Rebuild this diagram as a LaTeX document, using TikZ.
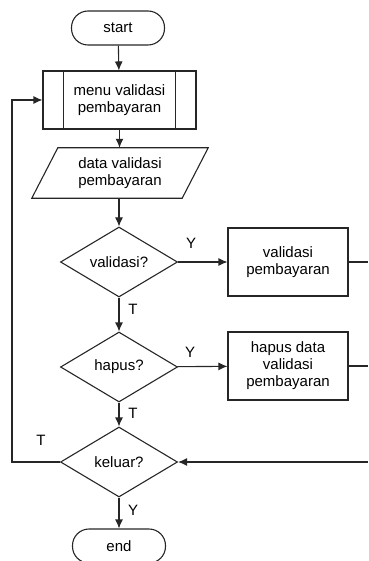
\documentclass[tikz,border=0pt]{standalone}
\usepackage{fontspec}
\setmainfont{Liberation Sans}
\usetikzlibrary{shapes.geometric,arrows.meta}

\begin{document}
\begin{tikzpicture}[x=1pt,y=-1pt,
  font=\fontsize{15}{17}\selectfont,
  line/.style={draw=black!85,line width=1.1pt},
  flow/.style={line,-{Latex[length=9pt,width=8pt]}},
  terminal/.style={line,rounded corners=16.5pt,minimum width=93pt,minimum height=34pt,inner sep=0pt},
  procbox/.style={line,rectangle,minimum width=120pt,minimum height=68pt,align=center,inner sep=0pt},
  decision/.style={line,diamond,aspect=1.67,minimum width=117pt,minimum height=70pt,inner sep=0pt},
  answer/.style={inner sep=0pt}]
  \useasboundingbox (0,0) rectangle (368,561);

  % main column
  \node[terminal] (start) at (118,28) {start};
  \node[line,rectangle,minimum width=153pt,minimum height=58pt,align=center,inner sep=0pt]
    (menu) at (119.5,100) {menu validasi\\pembayaran};
  \draw[line] ([xshift=21pt]menu.north west) -- ([xshift=21pt]menu.south west);
  \draw[line] ([xshift=-21pt]menu.north east) -- ([xshift=-21pt]menu.south east);

  \node[minimum width=150pt,minimum height=50pt,align=center,inner sep=0pt]
    (data) at (120,173) {data validasi\\pembayaran};
  \draw[line] ([xshift=13pt]data.north west) -- ([xshift=13pt]data.north east)
    -- ([xshift=-13pt]data.south east) -- ([xshift=-13pt]data.south west) -- cycle;

  \node[decision] (cekvalid) at (119,262) {validasi?};
  \node[decision] (cekhapus) at (119,367) {hapus?};
  \node[decision] (cekkeluar) at (119,462) {keluar?};
  \node[terminal] (end) at (119,546) {end};

  % side column
  \node[procbox] (validasi) at (288,262) {validasi\\pembayaran};
  \node[procbox] (hapus) at (288,366) {hapus data\\validasi\\pembayaran};

  \coordinate (outvalid) at (368,262);
  \coordinate (outhapus) at (368,366);
  \coordinate (inkeluar) at (368,462);
  \coordinate (kiri) at (12,462);

  % connectors
  \draw[flow] (start) -- (menu);
  \draw[flow] (menu) -- (data.north -| menu);
  \draw[flow] (data.south -| cekvalid) -- (cekvalid);
  \draw[flow] (cekvalid) -- (cekhapus);
  \draw[flow] (cekhapus) -- (cekkeluar);
  \draw[flow] (cekkeluar) -- (end);
  \draw[flow] (cekvalid) -- (validasi);
  \draw[flow] (cekhapus) -- (hapus);
  \draw[line] (validasi) -- (outvalid);
  \draw[line] (hapus) -- (outhapus);
  \draw[flow] (inkeluar) -- (cekkeluar);
  \draw[flow] (cekkeluar) -- (kiri) |- (menu);

  % answers
  \node[answer] (ya1) at (191,243) {Y};
  \node[answer] (tidak1) at (133,309) {T};
  \node[answer] (ya2) at (190,352) {Y};
  \node[answer] (tidak2) at (133,413) {T};
  \node[answer] (tidak3) at (41,440) {T};
  \node[answer] (ya3) at (133,510) {Y};
\end{tikzpicture}
\end{document}
